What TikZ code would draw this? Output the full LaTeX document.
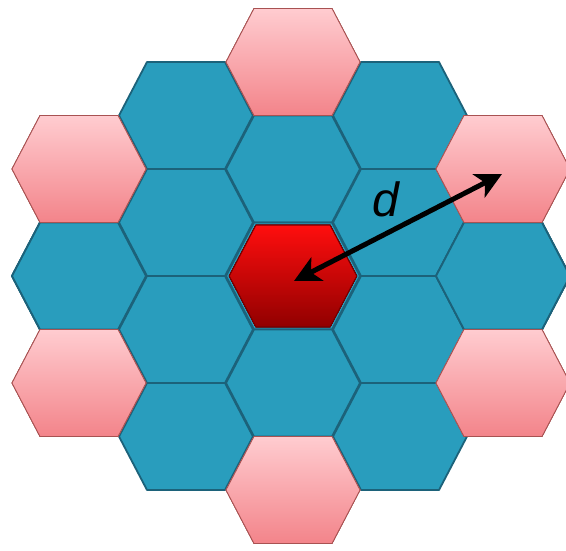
\documentclass[tikz,border=0pt]{standalone}
\usepackage{fontspec}
\setmainfont{Liberation Sans}
\usepackage{tikz}
\usetikzlibrary{arrows.meta}

\definecolor{cellblue}{RGB}{41,157,189}
\definecolor{cellblueline}{RGB}{28,98,122}
\definecolor{pinktop}{RGB}{255,204,208}
\definecolor{pinkbot}{RGB}{243,132,138}
\definecolor{pinkline}{RGB}{168,82,82}
\definecolor{redtop}{RGB}{255,14,14}
\definecolor{redbot}{RGB}{145,0,0}

\tikzset{
  bluecell/.style={fill=cellblue,draw=cellblueline,line width=1.8pt,line join=round},
  pinkcell/.style={top color=pinktop,bottom color=pinkbot,draw=pinkline,line width=0.8pt},
  redcell/.style={top color=redtop,bottom color=redbot,draw=redbot!80!black,line width=0.8pt},
}
% one cell centred at (#1,#2)
\newcommand{\hexcell}[3]{%
  \path[#3] (#1-67,#2) -- (#1-39,#2-53.5) -- (#1+39,#2-53.5) -- (#1+67,#2)
    -- (#1+39,#2+53.5) -- (#1-39,#2+53.5) -- cycle;}

\begin{document}
\begin{tikzpicture}[x=1pt,y=-1pt,>=Stealth]
			\clip (0,0) rectangle (566,551);
			\fill[white] (0,0) rectangle (566,551);
			% first ring and the blue part of the second ring
			\foreach \y in {115.5,222.5,329.5,436.5} {
				\hexcell{186}{\y}{bluecell}
				\hexcell{400}{\y}{bluecell}
			}
			\foreach \y in {169,276,383}
				\hexcell{293}{\y}{bluecell}
			\hexcell{79}{276}{bluecell}
			\hexcell{503}{276}{bluecell}
			% co-channel cells
			\foreach \x/\y in {293/62,293/490,79/169,79/383,503/169,503/383}
				\hexcell{\x}{\y}{pinkcell}
			\begin{scope}[shift={(293,276)},scale=0.95]
				\hexcell{0}{0}{redcell}
			\end{scope}
			% reuse distance
			\coordinate (dA) at (294,281);
			\coordinate (dB) at (502,174);
			\draw[<->,line width=5pt,>={Stealth[length=26pt,width=26pt,inset=7pt]}] (dA) -- (dB);
			\node (dlabel) at (386,199) {\fontsize{48}{48}\selectfont\itshape d};
		\end{tikzpicture}
\end{document}
